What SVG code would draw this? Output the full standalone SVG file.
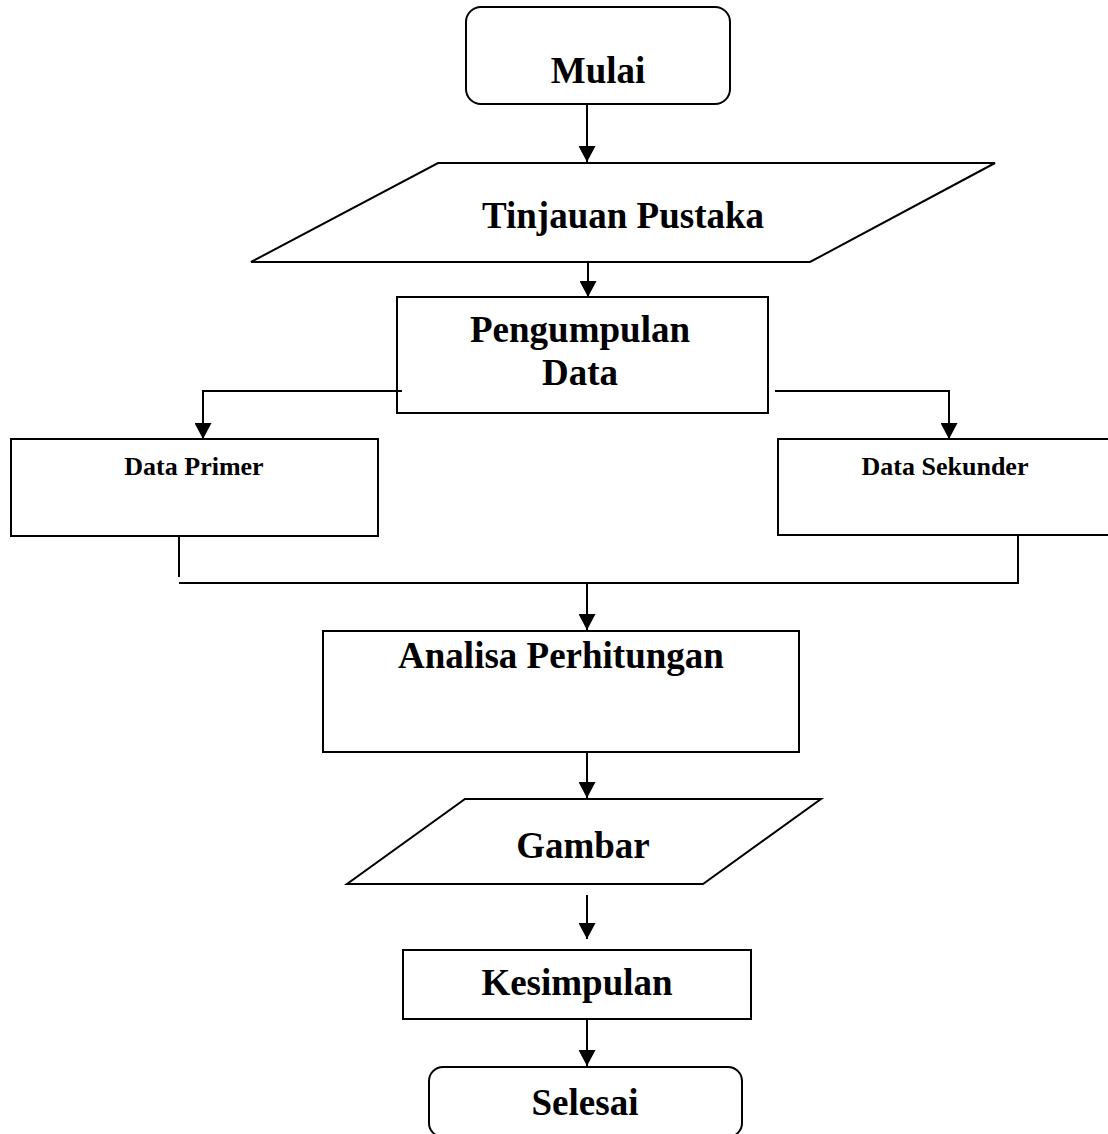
<svg xmlns="http://www.w3.org/2000/svg" width="1108" height="1134" viewBox="0 0 1108 1134">
<style>
.s{fill:#fff;stroke:#000;stroke-width:2}
.c{fill:none;stroke:#000;stroke-width:2}
.t{font-family:"Liberation Serif","Times New Roman",serif;font-weight:bold;font-size:37px;fill:#000;text-anchor:middle}
.sm{font-size:26px}
</style>
<defs>
<marker id="ah" markerWidth="16" markerHeight="17" viewBox="0 0 16 17" refX="16" refY="8.5" orient="auto" markerUnits="userSpaceOnUse">
<path d="M0,0 L16,8.5 L0,17 Z" fill="#000"/>
</marker>
</defs>
<rect width="1108" height="1134" fill="#fff"/>
<g id="mulai"><rect class="s" x="466" y="7" width="264" height="97" rx="15"/><text class="t" x="598" y="83">Mulai</text></g>
<g id="tinjauan"><polygon class="s" points="438,163 995,163 810,262 251,262"/><text class="t" x="623" y="228">Tinjauan Pustaka</text></g>
<g id="pengumpulan"><rect class="s" x="397" y="297" width="371" height="116"/><text class="t" x="580" y="342">Pengumpulan</text><text class="t" x="580" y="385">Data</text></g>
<g id="primer"><rect class="s" x="11" y="439" width="367" height="97"/><text class="t sm" x="194" y="475">Data Primer</text></g>
<g id="sekunder"><rect class="s" x="778" y="439" width="340" height="96"/><text class="t sm" x="945" y="475">Data Sekunder</text></g>
<g id="analisa"><rect class="s" x="323" y="631" width="476" height="121"/><text class="t" x="561" y="668">Analisa Perhitungan</text></g>
<g id="gambar"><polygon class="s" points="465,799 821,799 703,884 347,884"/><text class="t" x="583" y="858">Gambar</text></g>
<g id="kesimpulan"><rect class="s" x="403" y="950" width="348" height="69"/><text class="t" x="577" y="995">Kesimpulan</text></g>
<g id="selesai"><rect class="s" x="429" y="1067" width="313" height="70" rx="14"/><text class="t" x="585" y="1115">Selesai</text></g>
<g id="connectors">
<line class="c" x1="587" y1="104" x2="587" y2="162" marker-end="url(#ah)"/>
<line class="c" x1="588" y1="262" x2="588" y2="297" marker-end="url(#ah)"/>
<polyline class="c" points="402,391 203,391 203,439" marker-end="url(#ah)"/>
<polyline class="c" points="775,391 949,391 949,439" marker-end="url(#ah)"/>
<line class="c" x1="179" y1="536" x2="179" y2="577"/>
<polyline class="c" points="179,583 1018,583 1018,535"/>
<line class="c" x1="587" y1="583" x2="587" y2="630" marker-end="url(#ah)"/>
<line class="c" x1="587" y1="752" x2="587" y2="798" marker-end="url(#ah)"/>
<line class="c" x1="587" y1="895" x2="587" y2="939" marker-end="url(#ah)"/>
<line class="c" x1="587" y1="1018" x2="587" y2="1066" marker-end="url(#ah)"/>
</g>
</svg>
